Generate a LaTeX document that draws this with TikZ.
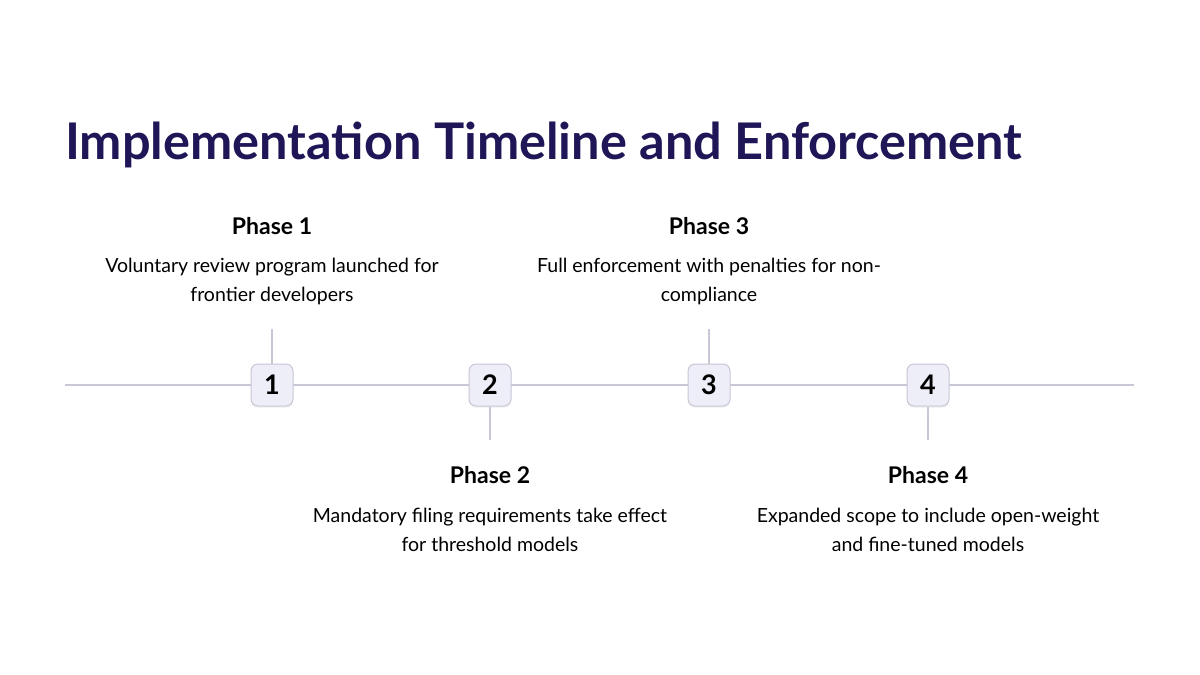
\documentclass[tikz,border=0pt]{standalone}
\usepackage{fontspec}
\setmainfont{Lato}
\usetikzlibrary{shadows}
\definecolor{titlec}{HTML}{1E1656}
\definecolor{linec}{HTML}{C9C6D6}
\definecolor{boxf}{HTML}{EEEEF8}
\begin{document}
\begin{tikzpicture}[x=1pt,y=-1pt,
  mark box/.style={draw=linec,line width=1pt,fill=boxf,rounded corners=7pt,minimum width=42pt,minimum height=42pt,font=\fontsize{27}{27}\selectfont\bfseries,drop shadow={opacity=0.08,shadow xshift=0pt,shadow yshift=-2pt}},
  stem/.style={draw=linec,line width=1.5pt},
  ptitle/.style={font=\fontsize{23}{26}\selectfont\bfseries,text=black},
  pdesc/.style={font=\fontsize{19.5}{29}\selectfont,text=black,align=center}]
\useasboundingbox (0,0) rectangle (1200,675);
\fill[white] (0,0) rectangle (1200,675);
\node[anchor=west,text=titlec,font=\fontsize{50.5}{52}\selectfont\bfseries,inner sep=0pt] (title) at (65,145) {Implementation Timeline and Enforcement};
\coordinate (L) at (65,385); \coordinate (R) at (1134,385);
\draw[stem] (L) -- (R);
\foreach \i/\x in {1/272,2/490,3/709,4/928}{
  \node[mark box] (m\i) at (\x,385) {\i};
}
\coordinate (t1) at (272,329); \coordinate (t3) at (709,329);
\coordinate (b2) at (490,440); \coordinate (b4) at (928,440);
\draw[stem] (m1.north) -- (t1);
\draw[stem] (m3.north) -- (t3);
\draw[stem] (m2.south) -- (b2);
\draw[stem] (m4.south) -- (b4);
\node[ptitle] (p1) at (272,226) {Phase 1};
\node[pdesc] (d1) at (272,281) {Voluntary review program launched for\\frontier developers};
\node[ptitle] (p3) at (709,226) {Phase 3};
\node[pdesc] (d3) at (709,281) {Full enforcement with penalties for non-\\compliance};
\node[ptitle] (p2) at (490,475) {Phase 2};
\node[pdesc] (d2) at (490,530) {Mandatory filing requirements take effect\\for threshold models};
\node[ptitle] (p4) at (928,475) {Phase 4};
\node[pdesc] (d4) at (928,530) {Expanded scope to include open-weight\\and fine-tuned models};
\end{tikzpicture}
\end{document}
